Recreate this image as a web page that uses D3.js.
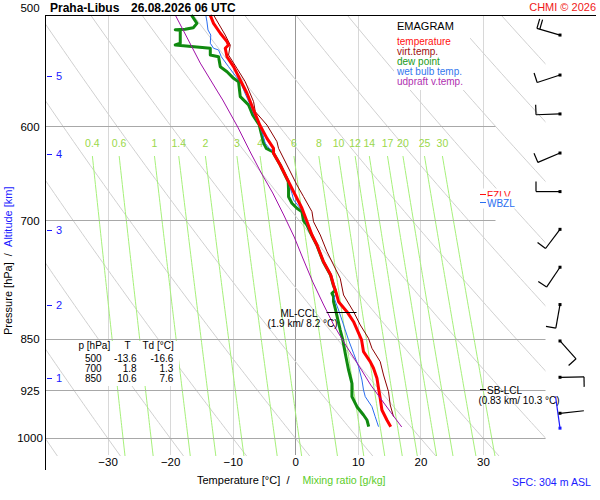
<!DOCTYPE html>
<html><head><meta charset="utf-8">
<script src="https://cdn.jsdelivr.net/npm/d3@7"></script>
<style>
body{margin:0;background:#fff;}
svg{display:block;font-family:"Liberation Sans",Arial,Helvetica,sans-serif;}
</style></head><body>
<svg id="c" width="600" height="500"></svg>
<script>
// ---------------- DATA ----------------
const stationName = "Praha-Libus";
const runTime = "26.08.2026 06 UTC";
const pressureTicks = [500, 600, 700, 850, 925, 1000];
const tempTicks = [-30, -20, -10, 0, 10, 20, 30];
const mixingRatios = [0.4, 0.6, 1, 1.4, 2, 3, 4, 6, 8, 10, 12, 14, 17, 20, 25, 30];
const altitudeKm = [1, 2, 3, 4, 5];
const altitudeP = [906, 804, 711, 628, 553];

// [pressure hPa, value °C]
const temperature = [[500,-13.6],[506.9,-13.06],[515.2,-11.98],[522.3,-10.91],[525.2,-10.66],[528.0,-11.19],[535.4,-10.91],[544.2,-9.86],[556.2,-8.79],[568.4,-7.72],[584.2,-6.66],[598.8,-5.67],[612.0,-4.52],[622.1,-3.47],[627.2,-3.47],[639.3,-2.40],[657.0,-1.07],[671.5,0],[686.3,1.07],[700,1.8],[717.0,2.67],[728.9,3.47],[749.1,4.52],[765.6,5.67],[778.2,6.12],[788.5,6.55],[799.8,6.92],[813.0,8.26],[826.5,9.32],[851.6,10.6],[868.1,10.91],[882.4,11.98],[892.0,12.51],[906.8,13.06],[921.8,13.31],[937.0,13.58],[955.1,13.85],[970.9,14.65],[981.6,15.26]];
const virtualTemp = [[500,-13.06],[516.7,-11.19],[525.2,-10.39],[533.9,-10.66],[545.7,-9.32],[557.8,-7.99],[576.3,-6.66],[585.8,-6.39],[598.8,-4.52],[615.4,-2.92],[622.1,-2.67],[639.3,-1.33],[660.6,0.27],[673.4,1.33],[690.1,2.67],[701.6,2.92],[717.0,4.0],[736.9,5.07],[753.1,6.12],[769.8,7.19],[791.1,7.72],[813.0,9.32],[830.9,10.39],[849.3,11.71],[863.3,12.26],[882.4,13.58],[901.9,14.11],[926.9,14.91],[947.3,15.18],[965.7,15.71]];
const dewPoint = [[500,-16.6],[506.9,-15.71],[510.5,-16.3],[511.8,-17.6],[512.2,-19.18],[512.6,-18.38],[523.7,-18.38],[525.2,-19.18],[528.0,-13.58],[533.9,-13.58],[535.4,-12.26],[544.2,-11.98],[548.7,-10.91],[554.7,-9.86],[557.8,-9.06],[571.6,-8.79],[576.3,-7.99],[579.5,-7.46],[589.0,-6.8],[598.8,-5.75],[607.0,-5.43],[617.0,-5.03],[622.1,-4.63],[625.6,-3.6],[627.2,-3.47],[639.3,-2.40],[657.0,-1.12],[666.0,-1.07],[673.4,-1.07],[680.7,-0.53],[686.3,0.27],[690.1,1.07],[700,1.3],[705.4,1.87],[715.0,2.48],[728.9,3.44],[749.1,4.47],[765.6,5.64],[778.2,6.07],[785.0,6.4],[788.9,5.86],[793.3,6.12],[799.8,6.12],[808.6,6.39],[837.8,7.19],[851.6,7.6],[870.4,7.99],[894.5,8.52],[914.3,9.06],[934.5,9.06],[950.0,9.86],[963.0,10.91],[970.9,11.46],[981.6,11.74]];
const wetBulb = [[500,-14.3],[505.7,-14.11],[512.4,-13.95],[516.7,-13.5],[523.7,-13.58],[528.0,-13.06],[529.5,-12.26],[535.4,-11.82],[544.2,-10.66],[551.7,-9.67],[557.8,-8.79],[570.0,-7.91],[579.5,-7.19],[589.0,-6.55],[598.8,-5.75],[607.0,-5.27],[617.0,-4.79],[622.1,-4.15],[625.6,-3.5],[627.2,-3.47],[639.3,-2.40],[657.0,-1.07],[662.4,-0.88],[669.6,-0.53],[677.0,-0.27],[686.3,0.80],[692.8,1.44],[700,1.6],[709.2,2.13],[717.0,2.67],[728.9,3.47],[749.1,4.52],[765.6,5.67],[778.2,6.12],[788.5,6.5],[795.4,6.23],[810.8,6.92],[824.2,7.46],[851.6,8.52],[870.4,9.32],[889.7,10.12],[909.3,10.66],[924.3,10.91],[934.5,11.19],[950.0,12.26],[965.7,12.78],[981.6,13.31]];
const parcelVirtTemp = [[982.1,17.02],[959.8,15.34],[936.5,13.58],[916.8,12.06],[897.5,10.79],[880.0,9.59],[854.4,7.75],[830.9,6.15],[804.2,4.55],[774.4,2.80],[744.6,1.2],[719.4,-0.16],[693.9,-1.84],[669.3,-3.60],[647.8,-5.43],[626.9,-7.11],[600.8,-9.19],[574.7,-11.59],[567.2,-12.38],[541.0,-15.18],[518.4,-17.34],[500,-19.18]];

const windP   = [516.7, 551.7, 588.0, 626.9, 667.8, 710.4, 755.9, 803.6, 853.0, 905.3, 960.3];
const windDir = [286, 252, 268, 247, 270, 217, 214, 190, 138, 89, 84];
const windSpd = [20, 10, 10, 10, 10, 10, 10, 10, 10, 10, 2];
const sfcWind = {p: 984, dir: 352};

const tableP  = [500, 700, 850];
const tableT  = [-13.6, 1.8, 10.6];
const tableTd = [-16.6, 1.3, 7.6];

const fzlvP = 670, wbzlP = 679;
const mlCcl = {p: 813, km: 1.9, t: 8.2};
const sbLcl = {p: 923, km: 0.83, t: 10.3};
const sfcHeight = 304;

const legendLabels = ["temperature", "virt.temp.", "dew point", "wet bulb temp.", "udpraft v.temp."];
const legendColors = ["#ff1010", "#a01010", "#209a20", "#3377ee", "#b030b0"];

// ---------------- SCALES ----------------
const svg = d3.select("#c");
const x = d3.scaleLinear().domain([-40, 40]).range([45, 545.5]);
const y = d3.scaleLog().domain([500, 1000]).range([15, 438]);
const line = d3.line().x(d => x(d[1])).y(d => y(d[0]));

svg.append("defs").append("clipPath").attr("id", "plot")
  .append("rect").attr("x", 45).attr("y", 15).attr("width", 500.5).attr("height", 441);

const grid = svg.append("g").attr("clip-path", "url(#plot)");

// isotherms
grid.selectAll("line.iso").data(tempTicks).join("line")
  .attr("x1", d => Math.round(x(d)) + 0.5).attr("x2", d => Math.round(x(d)) + 0.5)
  .attr("y1", 15).attr("y2", 455)
  .attr("stroke", d => d === 0 ? "#989898" : "#d8d8d8").attr("stroke-width", 1);

// dry adiabats
const thetas = d3.range(233.15, 393.2, 10);
const adP = d3.range(500, 1036, 5);
grid.selectAll("path.dry").data(thetas).join("path")
  .attr("d", th => d3.line()(adP.map(p => [x(th * Math.pow(p / 1000, 0.286) - 273.15), y(p)])))
  .attr("fill", "none").attr("stroke", "#d0d0d0").attr("stroke-width", 1);

// mixing ratio lines
function tMix(w, p) { const e = w * p / (622 + w); const l = Math.log(e / 6.112); return 243.5 * l / (17.67 - l); }
const mixP = d3.range(630, 1031, 5);
grid.selectAll("path.mix").data(mixingRatios).join("path")
  .attr("d", w => d3.line()(mixP.map(p => [x(tMix(w, p)), y(p)])))
  .attr("fill", "none").attr("stroke", "#a6f07a").attr("stroke-width", 1);
svg.selectAll("text.mix").data(mixingRatios).join("text")
  .attr("x", w => x(tMix(w, 630))).attr("y", 146.5)
  .attr("text-anchor", "middle").attr("font-size", 10.5).attr("fill", "#9ad84a")
  .text(w => String(w));

// pressure lines
svg.selectAll("line.pl").data(pressureTicks.slice(1)).join("line")
  .attr("x1", 45).attr("x2", p => p < 800 ? 495.5 : 545.5)
  .attr("y1", p => Math.round(y(p)) + 0.5).attr("y2", p => Math.round(y(p)) + 0.5)
  .attr("stroke", "#a8a8a8").attr("stroke-width", 1);

// boxes
svg.append("rect").attr("x", 394).attr("y", 16).attr("width", 76).attr("height", 74).attr("fill", "#fff");
svg.append("rect").attr("x", 75).attr("y", 341).attr("width", 104).attr("height", 45).attr("fill", "#fff");

// profiles
const prof = svg.append("g").attr("fill", "none").attr("stroke-linejoin", "round");
prof.append("path").attr("d", line(dewPoint)).attr("stroke", "#108a10").attr("stroke-width", 3);
prof.append("path").attr("d", line(wetBulb)).attr("stroke", "#2a6ef0").attr("stroke-width", 1);
prof.append("path").attr("d", line(virtualTemp)).attr("stroke", "#8c0000").attr("stroke-width", 1);
prof.append("path").attr("d", line(temperature)).attr("stroke", "#ff0000").attr("stroke-width", 3);
prof.append("path").attr("d", line(parcelVirtTemp)).attr("stroke", "#a010a8").attr("stroke-width", 1);

// borders
svg.append("line").attr("x1", 45).attr("x2", 596).attr("y1", 15.5).attr("y2", 15.5).attr("stroke", "#000");
svg.append("line").attr("x1", 45.5).attr("x2", 45.5).attr("y1", 15).attr("y2", 470).attr("stroke", "#000");

// pressure axis labels
const yAxis = svg.append("g").attr("transform", "translate(45,0)")
  .call(d3.axisLeft(y).tickValues(pressureTicks).tickSize(0).tickPadding(15).tickFormat(d3.format("d")));
yAxis.select(".domain").remove();
yAxis.selectAll("text").attr("text-anchor", "middle").attr("font-size", 11.5).attr("fill", "#000")
  .attr("font-family", '"Liberation Sans",Arial,sans-serif')
  .attr("dy", d => d === 500 ? "-0.3em" : "0.34em");

// temperature axis labels
const xAxis = svg.append("g").attr("transform", "translate(0,458)")
  .call(d3.axisBottom(x).tickValues(tempTicks).tickSize(0).tickPadding(0));
xAxis.select(".domain").remove();
xAxis.selectAll("text").attr("font-size", 11.5).attr("fill", "#000")
  .attr("font-family", '"Liberation Sans",Arial,sans-serif');

// altitude ticks
svg.selectAll("line.alt").data(altitudeP).join("line")
  .attr("x1", 47).attr("x2", 52).attr("y1", p => Math.round(y(p)) + 0.5).attr("y2", p => Math.round(y(p)) + 0.5)
  .attr("stroke", "#1a1aff");
svg.selectAll("text.alt").data(altitudeP).join("text")
  .attr("x", 56).attr("y", p => y(p) + 4).attr("font-size", 11).attr("fill", "#1a1aff")
  .text((p, i) => altitudeKm[i]);

// titles
svg.append("text").attr("x", 50).attr("y", 11.5).attr("font-size", 12).attr("font-weight", "bold").text(stationName);
svg.append("text").attr("x", 131).attr("y", 11.5).attr("font-size", 12).attr("font-weight", "bold").text(runTime);
svg.append("text").attr("x", 596).attr("y", 11).attr("text-anchor", "end").attr("font-size", 11).attr("fill", "#f01818").text("CHMI \u00a9 2026");

// axis titles
const yt = svg.append("text").attr("transform", "translate(12,335) rotate(-90)").attr("font-size", 11);
yt.append("tspan").attr("fill", "#000").text("Pressure [hPa]\u00a0\u00a0/\u00a0\u00a0");
yt.append("tspan").attr("fill", "#1a1aff").text("Altitude [km]");
svg.append("text").attr("x", 197).attr("y", 484).attr("font-size", 11).attr("fill", "#000").text("Temperature [\u00b0C]\u00a0\u00a0/");
svg.append("text").attr("x", 302.5).attr("y", 484).attr("font-size", 10.6).attr("fill", "#5ccc2a").text("Mixing ratio [g/kg]");
svg.append("text").attr("x", 512).attr("y", 485.5).attr("font-size", 10.6).attr("fill", "#1a1aff").text("SFC: " + sfcHeight + " m ASL");

// legend
svg.append("text").attr("x", 397).attr("y", 30).attr("font-size", 11).attr("fill", "#000").text("EMAGRAM");
svg.selectAll("text.leg").data(legendLabels).join("text")
  .attr("x", 397).attr("y", (d, i) => 44.5 + i * 10).attr("font-size", 10).attr("fill", (d, i) => legendColors[i]).text(d => d);

// table
const tb = svg.append("g").attr("font-size", 10).attr("fill", "#000");
tb.append("text").attr("x", 78.5).attr("y", 349).text("p [hPa]");
tb.append("text").attr("x", 127.5).attr("y", 349).attr("text-anchor", "middle").text("T");
tb.append("text").attr("x", 142.5).attr("y", 349).text("Td [\u00b0C]");
tableP.forEach((p, i) => {
  const yy = 361.7 + i * 10;
  tb.append("text").attr("x", 101.7).attr("y", yy).attr("text-anchor", "end").text(p);
  tb.append("text").attr("x", 136.7).attr("y", yy).attr("text-anchor", "end").text(tableT[i].toFixed(1));
  tb.append("text").attr("x", 173.3).attr("y", yy).attr("text-anchor", "end").text(tableTd[i].toFixed(1));
});

// FZLV / WBZL
[[fzlvP, "FZLV", "#ff1010"], [wbzlP, "WBZL", "#2a6ef0"]].forEach(([p, lab, col]) => {
  const yy = Math.round(y(p)) + 0.5;
  svg.append("rect").attr("x", 481).attr("y", yy - 6).attr("width", 42).attr("height", 12).attr("fill", "#fff");
  svg.append("line").attr("x1", 480).attr("x2", 486).attr("y1", yy).attr("y2", yy).attr("stroke", col);
  svg.append("text").attr("x", 487).attr("y", yy + 4).attr("font-size", 10).attr("fill", col).text(lab);
});

// ML-CCL
const cclY = Math.round(y(mlCcl.p)) + 0.5;
svg.append("line").attr("x1", x(mlCcl.t) - 20).attr("x2", x(mlCcl.t) + 10).attr("y1", cclY).attr("y2", cclY).attr("stroke", "#000");
svg.append("text").attr("x", 299).attr("y", cclY + 4.5).attr("text-anchor", "middle").attr("font-size", 10).text("ML-CCL");
svg.append("text").attr("x", 302.5).attr("y", cclY + 14).attr("text-anchor", "middle").attr("font-size", 10)
  .text("(" + mlCcl.km + " km/ " + mlCcl.t.toFixed(1) + " \u00b0C)");

// SB-LCL
const lclY = Math.round(y(sbLcl.p)) + 0.5;
svg.append("line").attr("x1", 480).attr("x2", 486).attr("y1", lclY).attr("y2", lclY).attr("stroke", "#000");
svg.append("text").attr("x", 487).attr("y", lclY + 4).attr("font-size", 10).text("SB-LCL");
svg.append("text").attr("x", 519).attr("y", lclY + 14).attr("text-anchor", "middle").attr("font-size", 10)
  .text("(" + sbLcl.km + " km/ " + sbLcl.t.toFixed(1) + " \u00b0C)");

// wind barbs
const wg = svg.append("g");
const bx = 560;
function barb(p, dir, spd, col, len, drawBarbs) {
  const sy = y(p);
  const r = dir * Math.PI / 180;
  const ux = Math.sin(r), uy = -Math.cos(r);
  const vx = -uy, vy = ux;
  wg.append("line").attr("x1", bx).attr("y1", sy).attr("x2", bx + len * ux).attr("y2", sy + len * uy)
    .attr("stroke", col).attr("stroke-width", 1.2);
  if (drawBarbs) {
    let s = Math.round(spd / 5) * 5, pos = len;
    while (s >= 10) {
      const px = bx + pos * ux, py = sy + pos * uy;
      wg.append("line").attr("x1", px).attr("y1", py).attr("x2", px + 10 * vx).attr("y2", py + 10 * vy)
        .attr("stroke", col).attr("stroke-width", 1.2);
      pos -= 3; s -= 10;
    }
    if (s >= 5) {
      const px = bx + pos * ux, py = sy + pos * uy;
      wg.append("line").attr("x1", px).attr("y1", py).attr("x2", px + 5 * vx).attr("y2", py + 5 * vy)
        .attr("stroke", col).attr("stroke-width", 1.2);
    }
  }
  wg.append("rect").attr("x", bx - 1.5).attr("y", sy - 1.5).attr("width", 3).attr("height", 3).attr("fill", col);
}
barb(sfcWind.p, sfcWind.dir, 0, "#1a1aff", 32, false);
windP.forEach((p, i) => barb(p, windDir[i], windSpd[i], "#000", 24, true));
</script>
</body></html>
